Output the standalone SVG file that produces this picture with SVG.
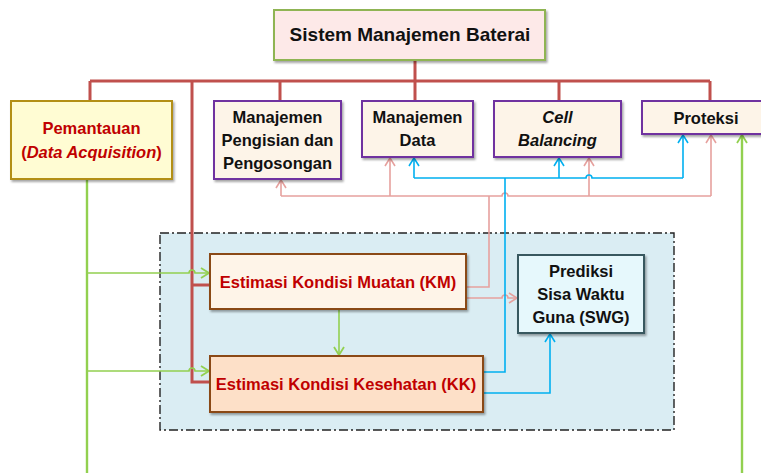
<svg xmlns="http://www.w3.org/2000/svg" width="761" height="473" viewBox="0 0 761 473">
  <style>
    .box { stroke-width: 2; filter: url(#shadow); }
    .lbl { font-family: "Liberation Sans", Arial, sans-serif; font-weight: bold; font-size: 16.5px; text-anchor: middle; fill: #111; }
    .red { fill: #c00000; }
    .trunk { fill: none; stroke: #c0504d; stroke-width: 3; stroke-linejoin: miter; }
    .pink { fill: none; stroke: #e6a19e; stroke-width: 1.6; }
    .blue { fill: none; stroke: #00b0f0; stroke-width: 1.6; }
    .green { fill: none; stroke: #92d050; stroke-width: 1.6; }
    .green-thick { fill: none; stroke: #92d050; stroke-width: 2.4; }
  </style>
  <defs>
    <filter id="shadow" x="-10%" y="-10%" width="130%" height="140%">
      <feDropShadow dx="1.5" dy="2" stdDeviation="1" flood-color="#000" flood-opacity="0.35"/>
    </filter>
    <marker id="ahPink" markerUnits="userSpaceOnUse" markerWidth="14" markerHeight="14" viewBox="-10 -7 12 14" refX="0" refY="0" orient="auto">
      <path d="M-8,-5 L0,0 L-8,5" fill="none" stroke="#e6a19e" stroke-width="1.6"/>
    </marker>
    <marker id="ahBlue" markerUnits="userSpaceOnUse" markerWidth="14" markerHeight="14" viewBox="-10 -7 12 14" refX="0" refY="0" orient="auto">
      <path d="M-8,-5 L0,0 L-8,5" fill="none" stroke="#00b0f0" stroke-width="1.6"/>
    </marker>
    <marker id="ahGreen" markerUnits="userSpaceOnUse" markerWidth="14" markerHeight="14" viewBox="-10 -7 12 14" refX="0" refY="0" orient="auto">
      <path d="M-8,-5 L0,0 L-8,5" fill="none" stroke="#92d050" stroke-width="1.8"/>
    </marker>
  </defs>

  <rect width="761" height="473" fill="#ffffff"/>

  <!-- estimation area -->
  <g id="estimation-area">
    <rect x="160" y="233" width="514" height="197" fill="#daedf3" stroke="#222" stroke-width="1.4" stroke-dasharray="9 3 2 3"/>
  </g>

  <!-- connectors -->
  <g id="connectors">
    <!-- main hierarchy trunk -->
    <path class="trunk" d="M415,60 V81 M90,81 H710 M90,81 V101 M280,81 V101 M415,81 V101 M559,81 V101 M710,81 V101"/>
    <path class="trunk" d="M192,81 V382 H210 M192,285 H210"/>

    <!-- KM outputs to management blocks -->
    <path class="pink" d="M466,287 H489 V196"/>
    <path class="pink" d="M281,196 H502 a3,3 0 0 1 6,0 H711"/>
    <path class="pink" d="M281,196 V180" marker-end="url(#ahPink)"/>
    <path class="pink" d="M390,196 V158" marker-end="url(#ahPink)"/>
    <path class="pink" d="M589,196 V158" marker-end="url(#ahPink)"/>
    <path class="pink" d="M711,196 V135" marker-end="url(#ahPink)"/>
    <path class="pink" d="M466,298 H502 a3,3 0 0 1 6,0 H517" marker-end="url(#ahPink)"/>

    <!-- KK outputs -->
    <path class="blue" d="M483,372 H505 V178"/>
    <path class="blue" d="M414,178 H586 a3,3 0 0 1 6,0 H683"/>
    <path class="blue" d="M414,178 V158" marker-end="url(#ahBlue)"/>
    <path class="blue" d="M559,178 V158" marker-end="url(#ahBlue)"/>
    <path class="blue" d="M683,178 V135" marker-end="url(#ahBlue)"/>
    <path class="blue" d="M483,393 H550 V334" marker-end="url(#ahBlue)"/>

    <!-- data acquisition feeds -->
    <path class="green-thick" d="M87,179 V473"/>
    <path class="green" d="M87,273 H189 a3,3 0 0 1 6,0 H209" marker-end="url(#ahGreen)"/>
    <path class="green" d="M87,371 H189 a3,3 0 0 1 6,0 H209" marker-end="url(#ahGreen)"/>
    <path class="green" d="M339,309 V355" marker-end="url(#ahGreen)"/>
    <path class="green-thick" d="M742,473 V135" marker-end="url(#ahGreen)"/>
  </g>

  <!-- nodes -->
  <g id="sistem">
    <rect class="box" x="274" y="10" width="271" height="50" fill="#fde9e8" stroke="#8fb453"/>
    <text class="lbl" x="410" y="41" style="font-size:19px">Sistem Manajemen Baterai</text>
  </g>

  <g id="pemantauan">
    <rect class="box" x="11" y="101" width="161" height="78" fill="#fffcd3" stroke="#b38f12"/>
    <text class="lbl red" x="91.5" y="134">Pemantauan</text>
    <text class="lbl red" x="91.5" y="158">(<tspan font-style="italic">Data Acquisition</tspan>)</text>
  </g>

  <g id="pengisian">
    <rect class="box" x="214" y="101" width="127" height="78" fill="#fdf4e8" stroke="#7030a0"/>
    <text class="lbl" x="277.5" y="123">Manajemen</text>
    <text class="lbl" x="277.5" y="146">Pengisian dan</text>
    <text class="lbl" x="277.5" y="169">Pengosongan</text>
  </g>

  <g id="data">
    <rect class="box" x="362" y="101" width="111" height="56" fill="#fdf4e8" stroke="#7030a0"/>
    <text class="lbl" x="417.5" y="123">Manajemen</text>
    <text class="lbl" x="417.5" y="146">Data</text>
  </g>

  <g id="cell-balancing">
    <rect class="box" x="494" y="101" width="127" height="56" fill="#fdf4e8" stroke="#7030a0"/>
    <text class="lbl" x="557.5" y="123" font-style="italic">Cell</text>
    <text class="lbl" x="557.5" y="146" font-style="italic">Balancing</text>
  </g>

  <g id="proteksi">
    <rect class="box" x="642" y="101" width="135" height="33" fill="#fdf4e8" stroke="#7030a0"/>
    <text class="lbl" x="706" y="124">Proteksi</text>
  </g>

  <g id="km">
    <rect class="box" x="210" y="254" width="256" height="55" fill="#fef4e8" stroke="#8a4a12"/>
    <text class="lbl red" x="338" y="288">Estimasi Kondisi Muatan (KM)</text>
  </g>

  <g id="kk">
    <rect class="box" x="210" y="356" width="273" height="56" fill="#fde0c8" stroke="#8a4a12"/>
    <text class="lbl red" x="346" y="390">Estimasi Kondisi Kesehatan (KK)</text>
  </g>

  <g id="swg">
    <rect class="box" x="518" y="255" width="126" height="78" fill="#e6f8fc" stroke="#37585e"/>
    <text class="lbl" x="581" y="277">Prediksi</text>
    <text class="lbl" x="581" y="300">Sisa Waktu</text>
    <text class="lbl" x="581" y="323">Guna (SWG)</text>
  </g>
</svg>
